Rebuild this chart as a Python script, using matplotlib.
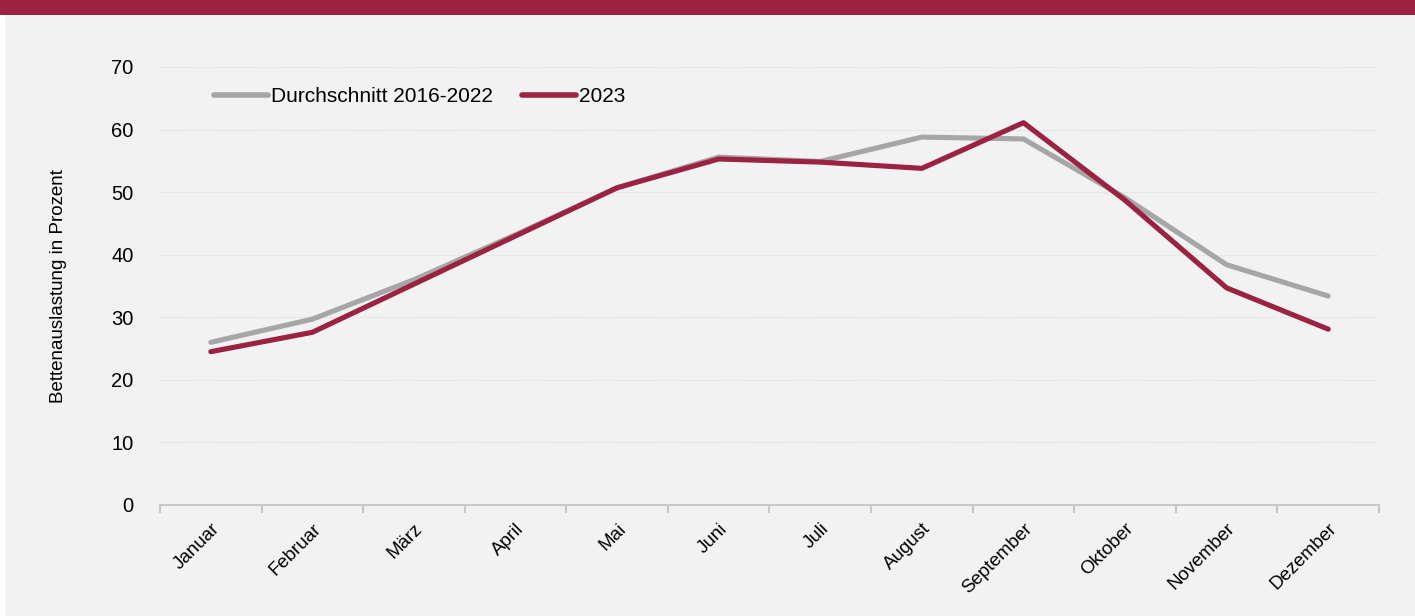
import matplotlib.pyplot as plt
from matplotlib.patches import Rectangle
from matplotlib.lines import Line2D

plt.rcParams['font.family'] = ['Liberation Sans', 'DejaVu Sans']

months = ['Januar', 'Februar', 'März', 'April', 'Mai', 'Juni', 'Juli',
          'August', 'September', 'Oktober', 'November', 'Dezember']
avg_2016_2022 = [26.0, 29.7, 36.0, 43.2, 50.7, 55.6, 54.9, 58.8, 58.5, 49.1, 38.4, 33.4]
year_2023 = [24.5, 27.6, 35.3, 43.0, 50.7, 55.3, 54.8, 53.8, 61.1, 48.7, 34.7, 28.1]
y_ticks = [0, 10, 20, 30, 40, 50, 60, 70]

crimson = '#9b2240'
grey_line = '#a6a6a6'
panel = '#f2f2f2'

fig = plt.figure(figsize=(14.15, 6.16), dpi=100, facecolor='white')

# background panel and top banner
fig.patches.append(Rectangle((5 / 1415, 0), 1, 1 - 15 / 616, transform=fig.transFigure,
                             facecolor=panel, edgecolor='none', zorder=-10))
fig.patches.append(Rectangle((0, 1 - 15 / 616), 1, 15 / 616, transform=fig.transFigure,
                             facecolor=crimson, edgecolor='none', zorder=-10))

ax = fig.add_axes([160 / 1415, 1 - 505 / 616, (1379 - 160) / 1415, (505 - 67) / 616])
ax.set_facecolor('none')

x = list(range(len(months)))
ax.plot(x, avg_2016_2022, color=grey_line, linewidth=3.7, solid_capstyle='round', zorder=3)
ax.plot(x, year_2023, color=crimson, linewidth=3.7, solid_capstyle='round', zorder=4)

ax.set_xlim(-0.5, len(months) - 0.5)
ax.set_ylim(0, 70)
ax.set_yticks(y_ticks)
ax.set_yticklabels([str(v) for v in y_ticks], fontsize=14.5)
ax.tick_params(axis='y', length=0, pad=19)

# category boundaries as ticks, labels at centers
ax.set_xticks([i - 0.5 for i in range(len(months) + 1)])
ax.set_xticklabels([])
ax.set_xticks(x, minor=True)
ax.set_xticklabels(months, minor=True, rotation=45, ha='right', va='top',
                   rotation_mode='anchor', fontsize=13.5)
ax.tick_params(axis='x', which='major', length=6, width=1.5, color='#c8c8c8', direction='out')
ax.tick_params(axis='x', which='minor', length=0, pad=11)

ax.grid(axis='y', color='#d9d9d9', linestyle=(0, (1, 1.5)), linewidth=0.8)
ax.grid(axis='x', visible=False)
ax.set_axisbelow(True)
for side in ['top', 'right', 'left']:
    ax.spines[side].set_visible(False)
ax.spines['bottom'].set_color('#c8c8c8')
ax.spines['bottom'].set_linewidth(1.5)

ax.set_ylabel('Bettenauslastung in Prozent', fontsize=13.5, labelpad=32)

handles = [Line2D([], [], color=grey_line, linewidth=4, solid_capstyle='round'),
           Line2D([], [], color=crimson, linewidth=4, solid_capstyle='round')]
ax.legend(handles, ['Durchschnitt 2016-2022', '2023'], loc='center left',
          bbox_to_anchor=(0.044, 0.932), ncol=2, frameon=False, fontsize=15,
          borderaxespad=0, borderpad=0,
          handlelength=2.6, handletextpad=0.15, columnspacing=1.4)

fig.savefig('out.png', dpi=100, facecolor=fig.get_facecolor())
